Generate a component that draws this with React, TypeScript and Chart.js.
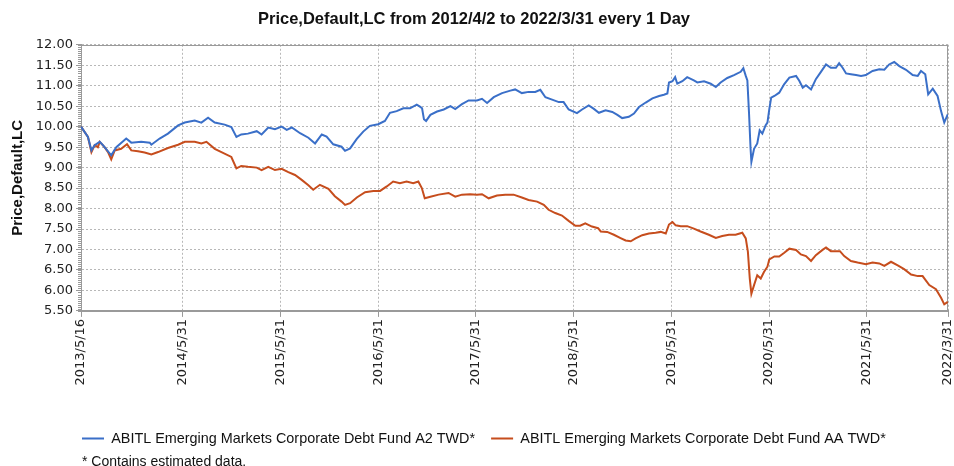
import { useEffect, useRef } from "react";
import { Chart, registerables } from "chart.js";

Chart.register(...registerables);

const chartTitle = "Price,Default,LC from 2012/4/2 to 2022/3/31 every 1 Day";
const yAxisTitle = "Price,Default,LC";
const footnote = "* Contains estimated data.";
const seriesNames = [
  "ABITL Emerging Markets Corporate Debt Fund A2 TWD*",
  "ABITL Emerging Markets Corporate Debt Fund AA TWD*",
];
const seriesColors = ["#3a6fc8", "#c64d1d"];

const startDate = "2013/5/16";
const tickLabels = [
  "2013/5/16", "2014/5/31", "2015/5/31", "2016/5/31", "2017/5/31",
  "2018/5/31", "2019/5/31", "2020/5/31", "2021/5/31", "2022/3/31",
];
const yMin = 5.5;
const yMax = 12;
const yStep = 0.5;
const yMinorStep = 0.05;

// days since 2013/5/16
const a2Days = [
  0, 26, 39, 51, 70, 82, 113, 132, 169, 188, 225, 257, 263, 294, 325, 363, 388, 425, 450, 475,
  500, 537, 562, 581, 599, 624, 657, 675, 700, 725, 750, 769, 788, 819, 850, 875, 900, 918, 943, 974,
  987, 1006, 1031, 1055, 1080, 1111, 1136, 1155, 1180, 1205, 1230, 1255, 1267, 1275, 1282, 1290, 1306, 1331, 1356, 1381,
  1399, 1424, 1449, 1480, 1499, 1518, 1543, 1574, 1605, 1623, 1648, 1673, 1698, 1717, 1736, 1761, 1786, 1804, 1823, 1854,
  1873, 1898, 1916, 1936, 1961, 1986, 2005, 2023, 2048, 2067, 2086, 2111, 2136, 2161, 2179, 2192, 2198, 2211, 2221, 2229,
  2248, 2266, 2291, 2304, 2329, 2354, 2373, 2391, 2416, 2441, 2466, 2476, 2485, 2491, 2497, 2503, 2506, 2516, 2528, 2537,
  2547, 2559, 2566, 2573, 2580, 2592, 2610, 2629, 2648, 2673, 2685, 2698, 2710, 2729, 2747, 2766, 2785, 2803, 2822, 2834,
  2847, 2860, 2878, 2897, 2916, 2934, 2959, 2984, 3003, 3021, 3040, 3059, 3084, 3109, 3128, 3140, 3156, 3167, 3184, 3202,
  3215, 3227, 3240,
];
const a2Values = [
  10.0, 9.75, 9.42, 9.55, 9.63, 9.55, 9.3, 9.5, 9.71, 9.61, 9.63, 9.61, 9.56, 9.71, 9.83, 10.03, 10.1, 10.15, 10.1, 10.22,
  10.1, 10.05, 9.99, 9.75, 9.81, 9.83, 9.89, 9.81, 9.98, 9.94, 10.0, 9.92, 9.98, 9.84, 9.73, 9.59, 9.81, 9.76, 9.57, 9.51,
  9.41, 9.47, 9.7, 9.88, 10.02, 10.06, 10.14, 10.34, 10.38, 10.45, 10.45, 10.54, 10.49, 10.45, 10.18, 10.14, 10.29, 10.37, 10.42, 10.5,
  10.43, 10.55, 10.64, 10.64, 10.68, 10.58, 10.72, 10.82, 10.88, 10.91, 10.82, 10.85, 10.85, 10.9, 10.72, 10.66, 10.6, 10.6, 10.42, 10.33,
  10.42, 10.52, 10.44, 10.34, 10.4, 10.36, 10.29, 10.21, 10.24, 10.32, 10.48, 10.59, 10.69, 10.75, 10.78, 10.81, 11.08, 11.11, 11.21, 11.05,
  11.11, 11.21, 11.13, 11.08, 11.11, 11.05, 10.97, 11.08, 11.19, 11.26, 11.34, 11.43, 11.24, 11.13, 10.36, 9.46, 9.14, 9.46, 9.59, 9.91,
  9.83, 10.03, 10.1, 10.43, 10.71, 10.75, 10.83, 11.04, 11.2, 11.24, 11.12, 10.95, 11.01, 10.91, 11.16, 11.34, 11.52, 11.44, 11.44, 11.55,
  11.44, 11.3, 11.28, 11.26, 11.24, 11.26, 11.36, 11.4, 11.39, 11.52, 11.58, 11.48, 11.39, 11.26, 11.24, 11.36, 11.28, 10.79, 10.93, 10.75,
  10.38, 10.1, 10.3,
];
const aaDays = [
  0, 26, 39, 51, 63, 70, 88, 101, 113, 126, 150, 172, 188, 213, 238, 263, 288, 325, 363, 388,
  425, 450, 469, 500, 525, 562, 581, 599, 624, 657, 675, 700, 725, 750, 775, 800, 825, 850, 868, 893,
  925, 949, 974, 987, 1006, 1031, 1062, 1093, 1118, 1143, 1167, 1192, 1217, 1242, 1261, 1274, 1285, 1306, 1337, 1374,
  1399, 1424, 1455, 1480, 1499, 1524, 1555, 1586, 1617, 1648, 1673, 1705, 1730, 1748, 1773, 1798, 1823, 1848, 1866, 1885,
  1910, 1933, 1943, 1967, 1992, 2017, 2036, 2055, 2073, 2098, 2123, 2148, 2167, 2186, 2198, 2211, 2223, 2242, 2266, 2291,
  2316, 2347, 2373, 2397, 2422, 2447, 2472, 2485, 2493, 2500, 2506, 2516, 2528, 2541, 2553, 2566, 2573, 2592, 2610, 2629,
  2648, 2673, 2691, 2710, 2729, 2747, 2772, 2785, 2803, 2822, 2837, 2853, 2878, 2903, 2934, 2959, 2984, 3003, 3028, 3053,
  3077, 3103, 3128, 3146, 3171, 3196, 3215, 3227, 3240,
];
const aaValues = [
  10.0, 9.75, 9.38, 9.55, 9.5, 9.63, 9.5, 9.38, 9.2, 9.42, 9.46, 9.57, 9.42, 9.4, 9.37, 9.32, 9.38, 9.48, 9.56, 9.63,
  9.63, 9.59, 9.63, 9.46, 9.38, 9.26, 8.98, 9.04, 9.02, 9.0, 8.94, 9.02, 8.94, 8.97, 8.89, 8.82, 8.7, 8.57, 8.46, 8.58,
  8.48, 8.3, 8.17, 8.09, 8.13, 8.27, 8.4, 8.43, 8.43, 8.54, 8.66, 8.62, 8.66, 8.62, 8.66, 8.5, 8.25, 8.29, 8.34, 8.38,
  8.29, 8.34, 8.35, 8.34, 8.35, 8.25, 8.32, 8.34, 8.34, 8.27, 8.21, 8.17, 8.09, 7.97, 7.89, 7.83, 7.7, 7.58, 7.58, 7.64,
  7.56, 7.52, 7.44, 7.43, 7.36, 7.28, 7.22, 7.2, 7.27, 7.35, 7.39, 7.41, 7.43, 7.39, 7.61, 7.67, 7.59, 7.57, 7.57, 7.51,
  7.44, 7.36, 7.28, 7.33, 7.36, 7.36, 7.41, 7.27, 6.94, 6.29, 5.92, 6.13, 6.37, 6.29, 6.45, 6.58, 6.76, 6.83, 6.83, 6.92,
  7.02, 6.99, 6.88, 6.84, 6.72, 6.86, 6.99, 7.05, 6.96, 6.96, 6.96, 6.84, 6.72, 6.68, 6.64, 6.68, 6.66, 6.6, 6.7, 6.61,
  6.52, 6.39, 6.35, 6.35, 6.13, 6.03, 5.82, 5.66, 5.72,
];

function dayOffset(label: string): number {
  const [y, m, d] = label.split("/").map(Number);
  const [y0, m0, d0] = startDate.split("/").map(Number);
  return Math.round((Date.UTC(y, m - 1, d) - Date.UTC(y0, m0 - 1, d0)) / 86400000);
}

const framePlugin = {
  id: "frame",
  beforeDatasetsDraw(chart: any) {
    const { ctx, chartArea: a } = chart;
    ctx.save();
    ctx.strokeStyle = "#9a9a9a";
    ctx.lineWidth = 1;
    ctx.strokeRect(Math.round(a.left) + 0.5, Math.round(a.top) + 0.5, Math.round(a.right - a.left) - 1, Math.round(a.bottom - a.top));
    ctx.restore();
  },
  afterDraw(chart: any) {
    const { ctx, chartArea: a } = chart;
    const y = chart.scales.y;
    ctx.save();
    ctx.strokeStyle = "#9a9a9a";
    ctx.lineWidth = 1;
    ctx.beginPath();
    const n = Math.round((yMax - yMin) / yMinorStep);
    for (let i = 0; i <= n; i++) {
      const py = Math.round(y.getPixelForValue(yMin + i * yMinorStep)) + 0.5;
      ctx.moveTo(Math.round(a.left) - 3, py);
      ctx.lineTo(Math.round(a.left), py);
    }
    ctx.stroke();
    ctx.restore();
  },
};

const shiftPlugin = {
  id: "shiftBottom",
  afterLayout(chart: any) {
    const left = chart.chartArea.left + 1;
    const lg = chart.legend;
    if (lg) lg.left = left - lg.options.labels.padding;
    chart.boxes.forEach((b: any) => {
      if (b.options && b.options.text === footnote) b.left = left;
    });
  },
};

export default function App() {
  const ref = useRef<HTMLCanvasElement>(null);
  useEffect(() => {
    const tickDays = tickLabels.map(dayOffset);
    const chart = new Chart(ref.current!, {
      type: "line",
      data: {
        datasets: [
          {
            label: seriesNames[0],
            data: a2Days.map((d, i) => ({ x: d, y: a2Values[i] })),
            borderColor: seriesColors[0],
            backgroundColor: seriesColors[0],
            borderWidth: 2,
            pointRadius: 0,
            tension: 0,
          },
          {
            label: seriesNames[1],
            data: aaDays.map((d, i) => ({ x: d, y: aaValues[i] })),
            borderColor: seriesColors[1],
            backgroundColor: seriesColors[1],
            borderWidth: 2,
            pointRadius: 0,
            tension: 0,
          },
        ],
      },
      options: {
        responsive: false,
        animation: false,
        layout: { padding: { left: 0, right: 6, top: 0, bottom: -2 } },
        plugins: {
          title: {
            display: true,
            text: chartTitle,
            color: "#111",
            font: { family: "'Liberation Sans', Arial, sans-serif", size: 16.5, weight: "bold", lineHeight: 1.2 },
            padding: { top: 10, bottom: 15 },
          },
          subtitle: {
            display: true,
            text: footnote,
            position: "bottom",
            align: "start",
            color: "#111",
            font: { family: "'Liberation Sans', Arial, sans-serif", size: 14, lineHeight: 0.8 },
            padding: { top: 1, bottom: 0 },
          },
          legend: {
            display: true,
            position: "bottom",
            align: "start",
            labels: {
              boxWidth: 22,
              boxHeight: 0,
              padding: 16,
              color: "#111",
              font: { family: "'Liberation Sans', Arial, sans-serif", size: 14.4 },
            },
          },
          tooltip: { enabled: false },
        },
        scales: {
          x: {
            type: "linear",
            min: 0,
            max: tickDays[tickDays.length - 1],
            afterBuildTicks: (scale: any) => {
              scale.ticks = tickDays.map((v) => ({ value: v }));
            },
            afterFit: (scale: any) => {
              scale.height = 104.5;
              scale.paddingLeft = 0;
              scale.paddingRight = 0;
            },
            ticks: {
              autoSkip: false,
              minRotation: 90,
              maxRotation: 90,
              padding: 2,
              color: "#222",
              font: { family: "'DejaVu Sans', sans-serif", size: 13 },
              callback: (_v: any, i: number) => tickLabels[i],
            },
            grid: {
              color: "#b8b8b8",
              drawTicks: true,
              tickLength: 6,
              tickColor: "#9a9a9a",
              tickBorderDash: [],
            },
            border: { display: true, color: "#9a9a9a", dash: [2, 2] },
          },
          y: {
            min: yMin,
            max: yMax,
            afterFit: (scale: any) => {
              scale.width = 81;
            },
            ticks: {
              stepSize: yStep,
              padding: 3,
              color: "#222",
              font: { family: "'DejaVu Sans', sans-serif", size: 13 },
              callback: (v: any) => Number(v).toFixed(2),
            },
            grid: {
              color: "#b8b8b8",
              drawTicks: true,
              tickLength: 5,
              tickColor: "#9a9a9a",
              tickBorderDash: [],
            },
            border: { display: true, color: "#9a9a9a", dash: [2, 2] },
            title: {
              display: true,
              text: yAxisTitle,
              color: "#111",
              font: { family: "'Liberation Sans', Arial, sans-serif", size: 15, weight: "bold", lineHeight: 1.2 },
              padding: { top: 9, bottom: 0 },
            },
          },
        },
      },
      plugins: [framePlugin, shiftPlugin],
    } as any);
    return () => chart.destroy();
  }, []);
  return (
    <div style={{ position: "fixed", left: 0, top: 0, width: 954, height: 466, background: "#fff" }}>
      <canvas ref={ref} width={954} height={466} style={{ width: 954, height: 466, display: "block" }} />
    </div>
  );
}
